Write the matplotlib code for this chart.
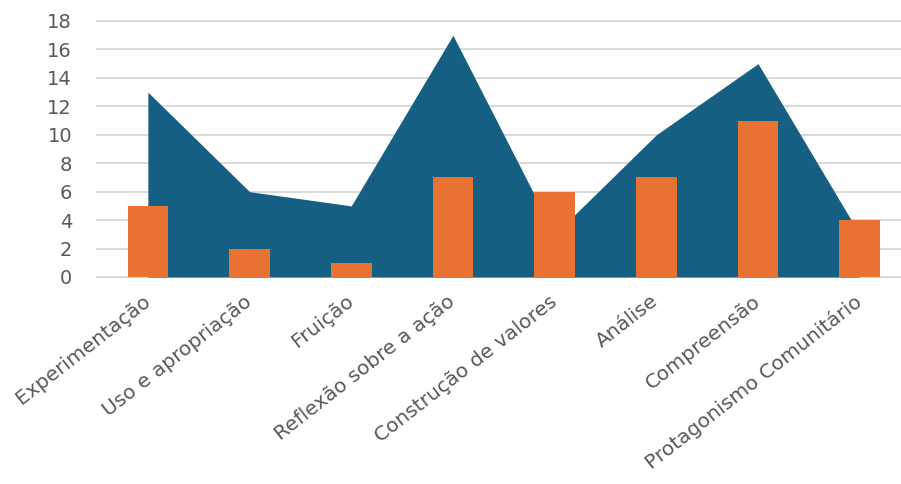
import matplotlib.pyplot as plt
import numpy as np

categorias = ["Experimentação", "Uso e apropriação", "Fruição",
              "Reflexão sobre a ação", "Construção de valores", "Análise",
              "Compreensão", "Protagonismo Comunitário"]
area_vals = [13, 6, 5, 17, 3, 10, 15, 3]
barra_vals = [5, 2, 1, 7, 6, 7, 11, 4]

azul = "#156082"
laranja = "#E97132"
cinza = "#595959"

plt.rcParams['font.family'] = ['DejaVu Sans']

fig = plt.figure(figsize=(9.01, 4.84), dpi=100)
ax = fig.add_axes([97 / 901, 207 / 484, 813.6 / 901, 256 / 484])

x = np.arange(len(categorias))
ax.fill_between(x, area_vals, 0, color=azul, linewidth=0, zorder=2)
ax.bar(x, barra_vals, width=0.4, color=laranja, zorder=3)

ax.set_xlim(-0.5, len(categorias) - 0.5)
ax.set_ylim(0, 18)
ax.set_yticks(range(0, 19, 2))
ax.yaxis.grid(True, color="#D9D9D9", linewidth=1.4, zorder=0)
ax.set_axisbelow(True)
for gl in ax.get_ygridlines():
    gl.set_clip_on(False)

for s in ax.spines.values():
    s.set_visible(False)

ax.tick_params(axis='y', length=0, pad=18, labelsize=14, labelcolor=cinza)
ax.tick_params(axis='x', length=0, pad=16, labelsize=14.5, labelcolor=cinza)
ax.set_xticks(x)
ax.set_xticklabels(categorias, rotation=38, ha='right', va='center',
                   rotation_mode='anchor')

fig.savefig("out.png", dpi=100)
